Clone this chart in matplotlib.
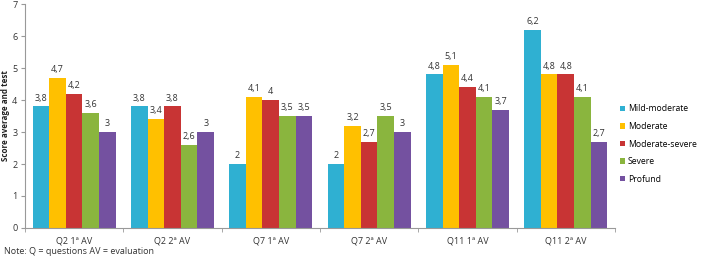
import matplotlib
matplotlib.use("Agg")
import matplotlib.pyplot as plt
import numpy as np

categories = ["Q2 1ª AV", "Q2 2ª AV", "Q7 1ª AV", "Q7 2ª AV", "Q11 1ª AV", "Q11 2ª AV"]
series_names = ["Mild-moderate", "Moderate", "Moderate-severe", "Severe", "Profund"]
mild_moderate = [3.8, 3.8, 2.0, 2.0, 4.8, 6.2]
moderate = [4.7, 3.4, 4.1, 3.2, 5.1, 4.8]
moderate_severe = [4.2, 3.8, 4.0, 2.7, 4.4, 4.8]
severe = [3.6, 2.6, 3.5, 3.5, 4.1, 4.1]
profund = [3.0, 3.0, 3.5, 3.0, 3.7, 2.7]
series = [mild_moderate, moderate, moderate_severe, severe, profund]
colors = ["#2FB0D2", "#FFC000", "#C83434", "#8AB53E", "#7451A0"]

plt.rcParams['font.family'] = ['Open Sans', 'DejaVu Sans']

fig = plt.figure(figsize=(7.04, 2.57), dpi=100)
ax = fig.add_axes([0.0355, 0.113, 0.838, 0.871])

x = np.arange(len(categories))
w = 0.169
for i, (vals, c, name) in enumerate(zip(series, colors, series_names)):
    pos = x + (i - 2) * w
    ax.bar(pos, vals, width=w, color=c, label=name, edgecolor='none')
    for p, v in zip(pos, vals):
        lab = f"{v:g}".replace(".", ",")
        ax.text(p, v + 0.12, lab, ha='center', va='bottom', fontsize=6.5, color='#333333')

ax.set_xlim(-0.5, len(categories) - 0.5)
ax.set_ylim(0, 7)
ax.set_yticks(range(0, 8))
ax.set_xticks(x)
ax.set_xticklabels(categories, fontsize=6.5, color='#333333')
ax.set_xticks(np.arange(-0.5, len(categories), 1), minor=True)
ax.tick_params(axis='x', which='major', length=0, pad=6)
ax.tick_params(axis='x', which='minor', length=3, color='#999999')
ax.tick_params(axis='y', labelsize=6.5, colors='#333333', length=3, pad=2.5)
ax.tick_params(axis='y', color='#999999')
for s in ['top', 'right']:
    ax.spines[s].set_visible(False)
for s in ['left', 'bottom']:
    ax.spines[s].set_color('#999999')
    ax.spines[s].set_linewidth(0.8)

fig.text(0.0075, 0.55, "Score average and test", fontsize=5.8, fontweight='bold',
         rotation=90, ha='center', va='center', color='#222222')

leg = ax.legend(loc='center left', bbox_to_anchor=(0.998, 0.375), frameon=False,
                fontsize=6.2, handlelength=0.6, handleheight=0.6, handletextpad=0.35,
                labelspacing=1.0, borderpad=0.2)

fig.text(0.006, 0.003, "Note: Q = questions AV = evaluation", fontsize=6.5, color='#333333',
         ha='left', va='bottom')

fig.savefig("out.png", dpi=100)
